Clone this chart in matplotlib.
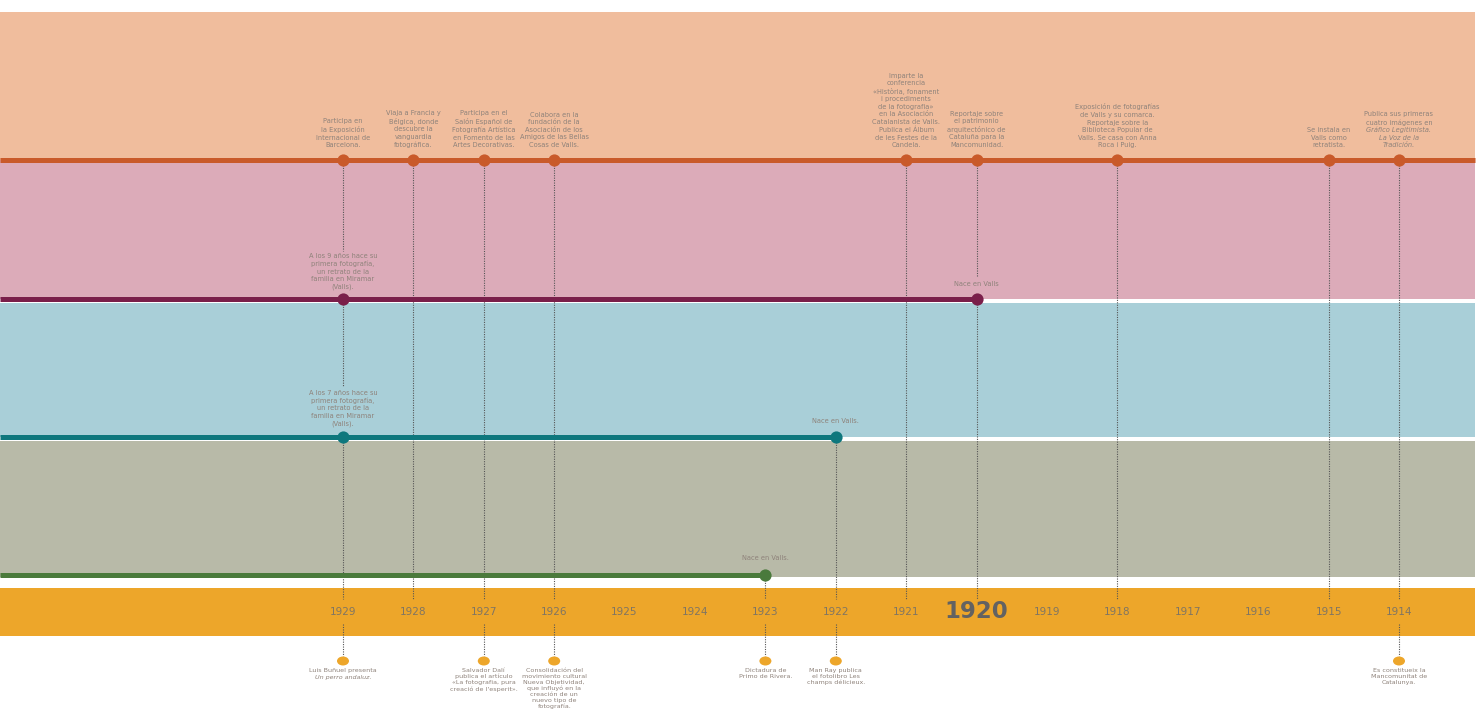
import matplotlib
matplotlib.use("Agg")
import matplotlib.pyplot as plt
from matplotlib.patches import Ellipse

# ---------------- data ----------------
years = list(range(1929, 1913, -1))
highlight_year = 1920

top_years = [1929, 1928, 1927, 1926, 1921, 1920, 1918, 1915]
top_texts = [
    "Participa en\nla Exposición\nInternacional de\nBarcelona.",
    "Viaja a Francia y\nBélgica, donde\ndescubre la\nvanguardia\nfotográfica.",
    "Participa en el\nSalón Español de\nFotografía Artística\nen Fomento de las\nArtes Decorativas.",
    "Colabora en la\nfundación de la\nAsociación de los\nAmigos de las Bellas\nCosas de Valls.",
    "Imparte la\nconferencia\n«Història, fonament\ni procediments\nde la fotografia»\nen la Asociación\nCatalanista de Valls.\nPublica el Álbum\nde les Festes de la\nCandela.",
    "Reportaje sobre\nel patrimonio\narquitectónico de\nCataluña para la\nMancomunidad.",
    "Exposición de fotografías\nde Valls y su comarca.\nReportaje sobre la\nBiblioteca Popular de\nValls. Se casa con Anna\nRoca i Puig.",
    "Se instala en\nValls como\nretratista.",
]
# 1914 entry: plain lines followed by italic lines
top_mixed_year = 1914
top_mixed_plain = "Publica sus primeras\ncuatro imágenes en"
top_mixed_ital = "Gráfico Legitimista.\nLa Voz de la\nTradición."

pink_end = 1920
pink_years = [1929, 1920]
pink_texts = ["A los 9 años hace su\nprimera fotografía,\nun retrato de la\nfamilia en Miramar\n(Valls).", "Nace en Valls"]

blue_end = 1922
blue_years = [1929, 1922]
blue_texts = ["A los 7 años hace su\nprimera fotografía,\nun retrato de la\nfamilia en Miramar\n(Valls).", "Nace en Valls."]

green_end = 1923
green_years = [1923]
green_texts = ["Nace en Valls."]

bottom_years = [1929, 1927, 1926, 1923, 1922, 1914]
bottom_plain = [
    "Luis Buñuel presenta",
    "Salvador Dalí\npublica el artículo\n«La fotografia, pura\ncreació de l'esperit».",
    "Consolidación del\nmovimiento cultural\nNueva Objetividad,\nque influyó en la\ncreación de un\nnuevo tipo de\nfotografía.",
    "Dictadura de\nPrimo de Rivera.",
    "Man Ray publica\nel fotolibro Les\nchamps délicieux.",
    "Es constitueix la\nMancomunitat de\nCatalunya.",
]
bottom_italic = ["Un perro andaluz.", "", "", "", "", ""]

# ---------------- style ----------------
C_PEACH = "#F0BD9D"
C_ORANGE = "#C95A2A"
C_PINK = "#DCABB9"
C_MAROON = "#7A1F4A"
C_BLUE = "#A9CFD8"
C_TEAL = "#0E777D"
C_GREY = "#B8BAA8"
C_GREEN = "#4A7A3C"
C_YELLOW = "#EDA62A"
C_TEXT = "#8E827A"
C_DOT = "#555555"

FS = 4.8
LS = 1.3
LINE_PX = 7.5          # approx. pixel height of one text line at FS/LS
FS_B = 4.6
LS_B = 1.2
LINE_PX_B = 6.6
plt.rcParams['font.family'] = ['DejaVu Sans']

fig = plt.figure(figsize=(14.82, 7.18), dpi=100)
ax = fig.add_axes([0, 0, 1, 1])
ax.set_xlim(1933.872, 1912.821)
ax.set_ylim(718, 0)
ax.axis("off")

XR = 1475 / 1482
# bands
ax.axhspan(12, 160, xmin=0, xmax=XR, color=C_PEACH, lw=0)
ax.axhspan(160, 299, xmin=0, xmax=XR, color=C_PINK, lw=0)
ax.axhspan(303, 437, xmin=0, xmax=XR, color=C_BLUE, lw=0)
ax.axhspan(441, 577, xmin=0, xmax=XR, color=C_GREY, lw=0)
ax.axhspan(588, 636, xmin=0, xmax=XR, color=C_YELLOW, lw=0)

xl, xr = ax.get_xlim()
x_right = xl + (xr - xl) * XR

# vertical dotted connectors
def vdot(x, y0, y1):
    ax.plot([x, x], [y0, y1], color=C_DOT, lw=0.8, ls=(0, (1, 1.2)), zorder=2)

pink_text_top = 251
blue_text_top = 387
for y in top_years + [top_mixed_year]:
    if y == 1929:
        vdot(y, 160, pink_text_top)
        vdot(y, 299, blue_text_top)
        vdot(y, 437, 599)
    elif y == 1920:
        vdot(y, 160, 277)
        vdot(y, 299, 599)
    else:
        vdot(y, 160, 599)
vdot(1922, 437, 599)
vdot(1923, 575, 599)
for y in bottom_years:
    vdot(y, 624, 656)

# horizontal lines
LW = 3.6
ax.plot([xl, x_right], [160, 160], color=C_ORANGE, lw=LW, solid_capstyle="butt", zorder=3)
ax.plot([xl, pink_end], [299, 299], color=C_MAROON, lw=LW, solid_capstyle="butt", zorder=3)
ax.plot([xl, blue_end], [437, 437], color=C_TEAL, lw=LW, solid_capstyle="butt", zorder=3)
ax.plot([xl, green_end], [575, 575], color=C_GREEN, lw=LW, solid_capstyle="butt", zorder=3)

MS = 8.8
ax.plot(top_years + [top_mixed_year], [160] * (len(top_years) + 1), "o", color=C_ORANGE, ms=MS, mew=0, zorder=4)
ax.plot(pink_years, [299] * len(pink_years), "o", color=C_MAROON, ms=MS, mew=0, zorder=4)
ax.plot(blue_years, [437] * len(blue_years), "o", color=C_TEAL, ms=MS, mew=0, zorder=4)
ax.plot(green_years, [575] * len(green_years), "o", color=C_GREEN, ms=MS, mew=0, zorder=4)

# texts
def txt(x, y, s, va="bottom", fs=FS, ls=LS, **kw):
    if not s:
        return
    ax.text(x, y, s, ha="center", va=va, fontsize=fs, color=C_TEXT,
            linespacing=ls, multialignment="center", zorder=5, **kw)

for y, s in zip(top_years, top_texts):
    txt(y, 148, s)
n_ital = top_mixed_ital.count("\n") + 1
txt(top_mixed_year, 148, top_mixed_ital, style="italic")
txt(top_mixed_year, 148 - n_ital * LINE_PX, top_mixed_plain)

for y, s in zip(pink_years, pink_texts):
    txt(y, 290 if y == 1929 else 287, s)
for y, s in zip(blue_years, blue_texts):
    txt(y, 427 if y == 1929 else 424, s)
for y, s in zip(green_years, green_texts):
    txt(y, 561, s)

px_per_year = 1482 / (xl - xr)
for y, s, si in zip(bottom_years, bottom_plain, bottom_italic):
    ax.add_patch(Ellipse((y, 661), width=12 / px_per_year, height=9,
                         color=C_YELLOW, lw=0, zorder=4))
    txt(y, 668, s, va="top", fs=FS_B, ls=LS_B)
    n_plain = s.count("\n") + 1
    txt(y, 668 + n_plain * LINE_PX_B, si, va="top", fs=FS_B, ls=LS_B, style="italic")

# year labels
for y in years:
    if y == highlight_year:
        ax.text(y, 611, str(y), ha="center", va="center", fontsize=16.5,
                fontweight="bold", color="#626262", zorder=5)
    else:
        ax.text(y, 612, str(y), ha="center", va="center", fontsize=7.6,
                color="#807562", zorder=5)

fig.savefig("out.png", dpi=100)
